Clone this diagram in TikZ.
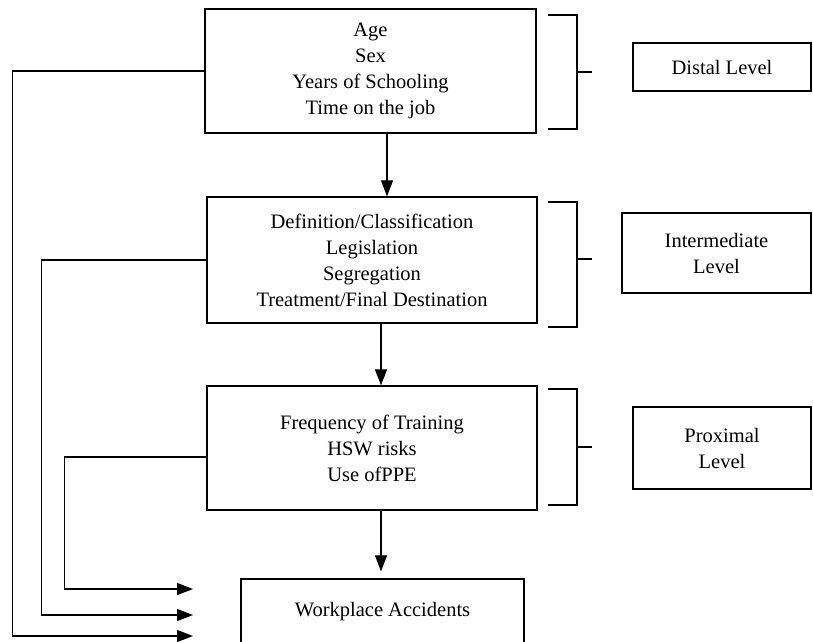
\documentclass[tikz,border=0pt]{standalone}
\usepackage{fontspec}
\setmainfont{Liberation Serif}
\usetikzlibrary{arrows.meta}

\begin{document}
\begin{tikzpicture}[x=1pt,y=-1pt,line width=1.1pt,>={Triangle[length=16pt,width=12pt]},
  factor/.style={draw,align=center,inner sep=0pt,line width=1.3pt,font=\fontsize{20.5}{26}\selectfont},
  level/.style={factor}]
  \useasboundingbox (0,0) rectangle (813,641);
  \node[factor,minimum width=331,minimum height=124] (age) at (370.5,71) {Age\\Sex\\Years of Schooling\\Time on the job};
  \node[factor,minimum width=330,minimum height=126] (def) at (372,260) {Definition/Classification\\Legislation\\Segregation\\Treatment/Final Destination};
  \node[factor,minimum width=330,minimum height=124] (freq) at (372,448) {Frequency of Training\\HSW risks\\Use ofPPE};
  \node[factor,minimum width=283,minimum height=66] (acc) at (382.5,612) {Workplace Accidents};
  \node[level,minimum width=178,minimum height=48] (dist) at (722,67) {Distal Level};
  \node[level,minimum width=189,minimum height=80] (inter) at (716.5,253) {Intermediate\\Level};
  \node[level,minimum width=178,minimum height=82] (prox) at (722,448) {Proximal\\Level};
  \draw (548,15) -| (577,129) -- (548,129);
  \draw (577,72) -- (592,72);
  \draw (548,202) -| (577,327) -- (548,327);
  \draw (577,259) -- (592,259);
  \draw (548,389) -| (577,505) -- (548,505);
  \draw (577,447) -- (592,447);
  \path ([xshift=16.5pt]age.south) coordinate (a1);
  \path ([xshift=9pt]def.south) coordinate (a2);
  \path ([xshift=9pt]freq.south) coordinate (a3);
  \draw[->] (a1) -- (a1 |- def.north);
  \draw[->] (a2) -- (a2 |- freq.north);
  \draw[->,shorten >=7pt] (a3) -- (a3 |- acc.north);
  \coordinate (in1) at (193,636);
  \coordinate (in2) at (193,615);
  \coordinate (in3) at (193,589);
  \draw[->] (age.west) -- ++(-192,0) |- (in1);
  \draw[->] (def.west) -- ++(-165,0) |- (in2);
  \draw[->] ([yshift=-9pt]freq.west) -- ++(-142,0) |- (in3);
\end{tikzpicture}
\end{document}
